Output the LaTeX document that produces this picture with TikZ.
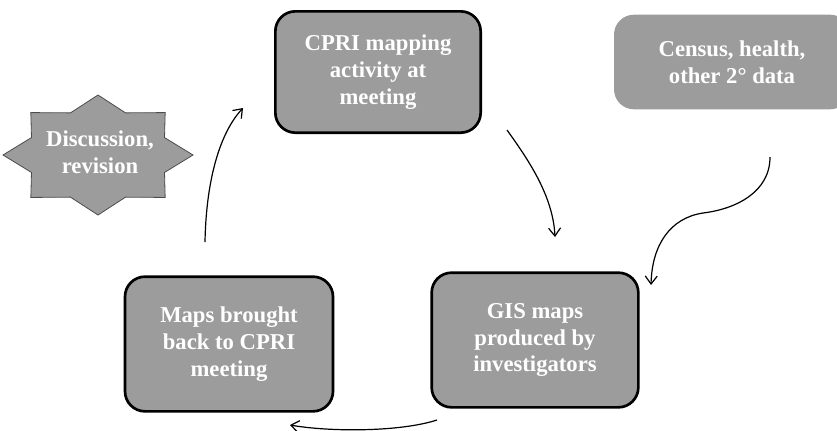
\documentclass[tikz,border=0pt]{standalone}
\usepackage{fontspec}
\setmainfont{Liberation Serif}
\usepackage{tikz}
\usetikzlibrary{positioning,arrows.meta}
\definecolor{dithergray}{HTML}{9C9C9C}

\begin{document}
\begin{tikzpicture}[x=0.75pt, y=-0.75pt,
    stage/.style={draw, line width=2pt, rounded corners=15pt, fill=dithergray, text=white,
      font=\bfseries\fontsize{17}{20}\selectfont, align=center},
    flare/.style={fill=dithergray, draw=black!70, line width=0.6pt},
    loop/.style={-{Straight Barb[length=6pt,width=9pt]}, line width=0.9pt}]
  \useasboundingbox (0,0) rectangle (837,430);

  \node[stage, minimum width=154pt, minimum height=91pt] (cpri) at (378,72) {CPRI mapping\\activity at\\meeting};
  \node[stage, draw=none, minimum width=177pt, minimum height=71pt] (census) at (732,62) {Census, health,\\other 2° data};
  \node[stage, minimum width=155pt, minimum height=101pt] (gis) at (535,340) {GIS maps\\produced by\\investigators};
  \node[stage, minimum width=156pt, minimum height=101pt] (maps) at (229,344) {Maps brought\\back to CPRI\\meeting};

  \draw[flare, shift={(98,155)}] (0:95 and 60)
    \foreach \a in {22.5,67.5,...,337.5} { -- (\a:72 and 45.6) -- (\a+22.5:95 and 60) } -- cycle;
  \node[text=white, font=\bfseries\fontsize{17}{20}\selectfont, align=center] (disc) at (100,152) {Discussion,\\revision};

  \coordinate (a1) at (507,130);
  \coordinate (a2) at (555,237);
  \coordinate (b1) at (770,157);
  \coordinate (b2) at (703,213);
  \coordinate (b3) at (651,285);
  \coordinate (c1) at (437,420);
  \coordinate (c2) at (290,425);
  \coordinate (d1) at (205,242);
  \coordinate (d2) at (243,108);

  \draw[loop] (a1) .. controls (527,158) and (553,195) .. (a2);
  \draw[loop] (b1) .. controls (770,192) and (736,209) .. (b2) .. controls (670,218) and (652,245) .. (b3);
  \draw[loop] (c1) .. controls (400,432) and (330,432) .. (c2);
  \draw[loop] (d1) .. controls (206,185) and (218,135) .. (d2);
\end{tikzpicture}
\end{document}
